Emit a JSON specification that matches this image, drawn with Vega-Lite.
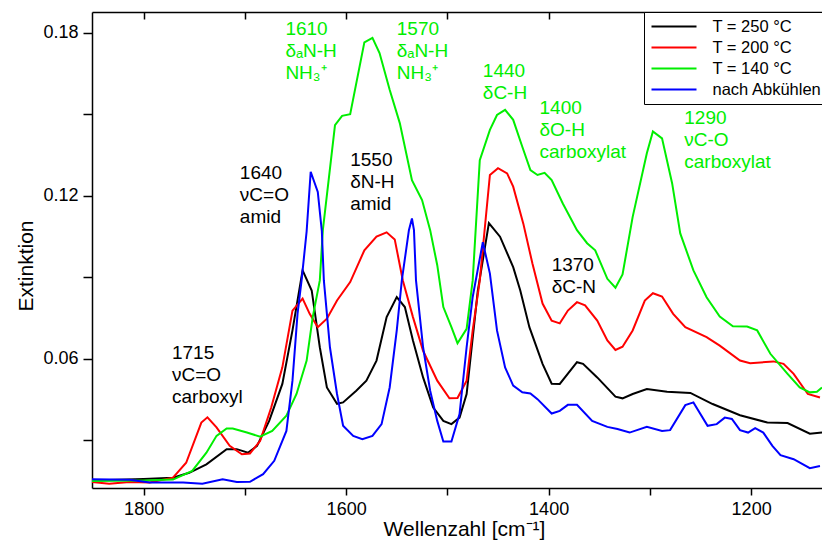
{
  "$schema": "https://vega.github.io/schema/vega-lite/v6.json",
  "width": 730,
  "height": 476,
  "autosize": {"type": "none"},
  "padding": {"left": 92, "top": 12, "right": 0, "bottom": 57},
  "background": "white",
  "config": {
    "view": {"stroke": null},
    "font": "Liberation Sans",
    "axis": {
      "labelFont": "Liberation Sans", "titleFont": "Liberation Sans",
      "labelColor": "black", "titleColor": "black", "domainColor": "black", "tickColor": "black",
      "grid": false, "labelFontSize": 18, "titleFontSize": 21, "titleFontWeight": "normal",
      "domainWidth": 1.5, "tickWidth": 1.5
    }
  },
  "datasets": {
    "spectra": [
      {"s":"T = 250 °C","w":1851,"v":0.0153},{"s":"T = 250 °C","w":1800,"v":0.0158},{"s":"T = 250 °C","w":1771,"v":0.0163},{"s":"T = 250 °C","w":1755,"v":0.0181},{"s":"T = 250 °C","w":1738,"v":0.0212},{"s":"T = 250 °C","w":1718,"v":0.0268},{"s":"T = 250 °C","w":1708,"v":0.0268},{"s":"T = 250 °C","w":1697,"v":0.0255},{"s":"T = 250 °C","w":1688,"v":0.028},{"s":"T = 250 °C","w":1676,"v":0.0372},{"s":"T = 250 °C","w":1663,"v":0.0508},{"s":"T = 250 °C","w":1653,"v":0.0705},{"s":"T = 250 °C","w":1643,"v":0.0926},{"s":"T = 250 °C","w":1634,"v":0.0852},{"s":"T = 250 °C","w":1626,"v":0.0643},{"s":"T = 250 °C","w":1619,"v":0.0495},{"s":"T = 250 °C","w":1609,"v":0.0435},{"s":"T = 250 °C","w":1603,"v":0.044},{"s":"T = 250 °C","w":1590,"v":0.0483},{"s":"T = 250 °C","w":1580,"v":0.052},{"s":"T = 250 °C","w":1570,"v":0.0594},{"s":"T = 250 °C","w":1560,"v":0.0754},{"s":"T = 250 °C","w":1550,"v":0.0828},{"s":"T = 250 °C","w":1542,"v":0.0791},{"s":"T = 250 °C","w":1534,"v":0.0668},{"s":"T = 250 °C","w":1524,"v":0.0532},{"s":"T = 250 °C","w":1514,"v":0.0421},{"s":"T = 250 °C","w":1504,"v":0.0372},{"s":"T = 250 °C","w":1496,"v":0.036},{"s":"T = 250 °C","w":1488,"v":0.0384},{"s":"T = 250 °C","w":1481,"v":0.0471},{"s":"T = 250 °C","w":1470,"v":0.085},{"s":"T = 250 °C","w":1459,"v":0.110},{"s":"T = 250 °C","w":1448,"v":0.105},{"s":"T = 250 °C","w":1435,"v":0.0938},{"s":"T = 250 °C","w":1428,"v":0.0852},{"s":"T = 250 °C","w":1419,"v":0.0717},{"s":"T = 250 °C","w":1406,"v":0.0582},{"s":"T = 250 °C","w":1397,"v":0.0509},{"s":"T = 250 °C","w":1389,"v":0.0508},{"s":"T = 250 °C","w":1372,"v":0.0588},{"s":"T = 250 °C","w":1366,"v":0.0582},{"s":"T = 250 °C","w":1352,"v":0.0532},{"s":"T = 250 °C","w":1334,"v":0.0461},{"s":"T = 250 °C","w":1327,"v":0.0455},{"s":"T = 250 °C","w":1317,"v":0.0471},{"s":"T = 250 °C","w":1303,"v":0.0489},{"s":"T = 250 °C","w":1283,"v":0.0479},{"s":"T = 250 °C","w":1260,"v":0.0475},{"s":"T = 250 °C","w":1238,"v":0.0434},{"s":"T = 250 °C","w":1211,"v":0.0393},{"s":"T = 250 °C","w":1184,"v":0.0366},{"s":"T = 250 °C","w":1164,"v":0.0364},{"s":"T = 250 °C","w":1142,"v":0.0325},{"s":"T = 250 °C","w":1130,"v":0.0329},

      {"s":"T = 200 °C","w":1851,"v":0.0147},{"s":"T = 200 °C","w":1834,"v":0.0141},{"s":"T = 200 °C","w":1814,"v":0.0147},{"s":"T = 200 °C","w":1794,"v":0.0145},{"s":"T = 200 °C","w":1771,"v":0.0163},{"s":"T = 200 °C","w":1758,"v":0.0218},{"s":"T = 200 °C","w":1743,"v":0.0366},{"s":"T = 200 °C","w":1737,"v":0.0385},{"s":"T = 200 °C","w":1728,"v":0.0348},{"s":"T = 200 °C","w":1715,"v":0.028},{"s":"T = 200 °C","w":1703,"v":0.0249},{"s":"T = 200 °C","w":1695,"v":0.0252},{"s":"T = 200 °C","w":1685,"v":0.0298},{"s":"T = 200 °C","w":1674,"v":0.0421},{"s":"T = 200 °C","w":1663,"v":0.0569},{"s":"T = 200 °C","w":1653,"v":0.0778},{"s":"T = 200 °C","w":1643,"v":0.0822},{"s":"T = 200 °C","w":1636,"v":0.0766},{"s":"T = 200 °C","w":1628,"v":0.0717},{"s":"T = 200 °C","w":1619,"v":0.0748},{"s":"T = 200 °C","w":1609,"v":0.0815},{"s":"T = 200 °C","w":1596,"v":0.0883},{"s":"T = 200 °C","w":1582,"v":0.100},{"s":"T = 200 °C","w":1570,"v":0.105},{"s":"T = 200 °C","w":1560,"v":0.1066},{"s":"T = 200 °C","w":1552,"v":0.104},{"s":"T = 200 °C","w":1544,"v":0.0889},{"s":"T = 200 °C","w":1534,"v":0.0754},{"s":"T = 200 °C","w":1524,"v":0.063},{"s":"T = 200 °C","w":1510,"v":0.052},{"s":"T = 200 °C","w":1498,"v":0.0455},{"s":"T = 200 °C","w":1490,"v":0.0456},{"s":"T = 200 °C","w":1481,"v":0.052},{"s":"T = 200 °C","w":1475,"v":0.0705},{"s":"T = 200 °C","w":1468,"v":0.0889},{"s":"T = 200 °C","w":1458,"v":0.1277},{"s":"T = 200 °C","w":1450,"v":0.1302},{"s":"T = 200 °C","w":1441,"v":0.1283},{"s":"T = 200 °C","w":1435,"v":0.1234},{"s":"T = 200 °C","w":1425,"v":0.1098},{"s":"T = 200 °C","w":1416,"v":0.0951},{"s":"T = 200 °C","w":1406,"v":0.0804},{"s":"T = 200 °C","w":1397,"v":0.0741},{"s":"T = 200 °C","w":1389,"v":0.0731},{"s":"T = 200 °C","w":1381,"v":0.0778},{"s":"T = 200 °C","w":1372,"v":0.0809},{"s":"T = 200 °C","w":1364,"v":0.0797},{"s":"T = 200 °C","w":1352,"v":0.0741},{"s":"T = 200 °C","w":1342,"v":0.0668},{"s":"T = 200 °C","w":1334,"v":0.0633},{"s":"T = 200 °C","w":1327,"v":0.0645},{"s":"T = 200 °C","w":1317,"v":0.0705},{"s":"T = 200 °C","w":1305,"v":0.0815},{"s":"T = 200 °C","w":1297,"v":0.0842},{"s":"T = 200 °C","w":1288,"v":0.083},{"s":"T = 200 °C","w":1277,"v":0.0766},{"s":"T = 200 °C","w":1265,"v":0.0717},{"s":"T = 200 °C","w":1244,"v":0.068},{"s":"T = 200 °C","w":1231,"v":0.0649},{"s":"T = 200 °C","w":1211,"v":0.0594},{"s":"T = 200 °C","w":1201,"v":0.0584},{"s":"T = 200 °C","w":1178,"v":0.0591},{"s":"T = 200 °C","w":1168,"v":0.0582},{"s":"T = 200 °C","w":1158,"v":0.0545},{"s":"T = 200 °C","w":1144,"v":0.0471},{"s":"T = 200 °C","w":1132,"v":0.0458},

      {"s":"T = 140 °C","w":1851,"v":0.0151},{"s":"T = 140 °C","w":1800,"v":0.0153},{"s":"T = 140 °C","w":1771,"v":0.0156},{"s":"T = 140 °C","w":1752,"v":0.0188},{"s":"T = 140 °C","w":1738,"v":0.0255},{"s":"T = 140 °C","w":1728,"v":0.0317},{"s":"T = 140 °C","w":1718,"v":0.0344},{"s":"T = 140 °C","w":1712,"v":0.0344},{"s":"T = 140 °C","w":1698,"v":0.0329},{"s":"T = 140 °C","w":1685,"v":0.0314},{"s":"T = 140 °C","w":1673,"v":0.0335},{"s":"T = 140 °C","w":1659,"v":0.0391},{"s":"T = 140 °C","w":1649,"v":0.0471},{"s":"T = 140 °C","w":1639,"v":0.0594},{"s":"T = 140 °C","w":1633,"v":0.0754},{"s":"T = 140 °C","w":1626,"v":0.0889},{"s":"T = 140 °C","w":1623,"v":0.1074},{"s":"T = 140 °C","w":1611,"v":0.1461},{"s":"T = 140 °C","w":1604,"v":0.1495},{"s":"T = 140 °C","w":1596,"v":0.1501},{"s":"T = 140 °C","w":1582,"v":0.1765},{"s":"T = 140 °C","w":1574,"v":0.1782},{"s":"T = 140 °C","w":1567,"v":0.1726},{"s":"T = 140 °C","w":1557,"v":0.1591},{"s":"T = 140 °C","w":1547,"v":0.1468},{"s":"T = 140 °C","w":1535,"v":0.1258},{"s":"T = 140 °C","w":1525,"v":0.1185},{"s":"T = 140 °C","w":1517,"v":0.1074},{"s":"T = 140 °C","w":1510,"v":0.0945},{"s":"T = 140 °C","w":1504,"v":0.0791},{"s":"T = 140 °C","w":1496,"v":0.0717},{"s":"T = 140 °C","w":1490,"v":0.0658},{"s":"T = 140 °C","w":1481,"v":0.0711},{"s":"T = 140 °C","w":1475,"v":0.0889},{"s":"T = 140 °C","w":1468,"v":0.1332},{"s":"T = 140 °C","w":1458,"v":0.1443},{"s":"T = 140 °C","w":1451,"v":0.1498},{"s":"T = 140 °C","w":1443,"v":0.1517},{"s":"T = 140 °C","w":1435,"v":0.148},{"s":"T = 140 °C","w":1426,"v":0.1381},{"s":"T = 140 °C","w":1418,"v":0.1295},{"s":"T = 140 °C","w":1411,"v":0.1277},{"s":"T = 140 °C","w":1404,"v":0.1285},{"s":"T = 140 °C","w":1397,"v":0.1258},{"s":"T = 140 °C","w":1386,"v":0.1172},{"s":"T = 140 °C","w":1372,"v":0.1074},{"s":"T = 140 °C","w":1362,"v":0.1026},{"s":"T = 140 °C","w":1354,"v":0.1},{"s":"T = 140 °C","w":1342,"v":0.0895},{"s":"T = 140 °C","w":1334,"v":0.0862},{"s":"T = 140 °C","w":1327,"v":0.0911},{"s":"T = 140 °C","w":1317,"v":0.1123},{"s":"T = 140 °C","w":1303,"v":0.1357},{"s":"T = 140 °C","w":1297,"v":0.1437},{"s":"T = 140 °C","w":1288,"v":0.1412},{"s":"T = 140 °C","w":1278,"v":0.1246},{"s":"T = 140 °C","w":1270,"v":0.1062},{"s":"T = 140 °C","w":1257,"v":0.0926},{"s":"T = 140 °C","w":1244,"v":0.0827},{"s":"T = 140 °C","w":1231,"v":0.0756},{"s":"T = 140 °C","w":1218,"v":0.072},{"s":"T = 140 °C","w":1204,"v":0.0719},{"s":"T = 140 °C","w":1194,"v":0.0705},{"s":"T = 140 °C","w":1181,"v":0.0619},{"s":"T = 140 °C","w":1164,"v":0.0545},{"s":"T = 140 °C","w":1152,"v":0.0495},{"s":"T = 140 °C","w":1142,"v":0.0477},{"s":"T = 140 °C","w":1135,"v":0.0479},{"s":"T = 140 °C","w":1130,"v":0.0495},

      {"s":"nach Abkühlen","w":1851,"v":0.0157},{"s":"nach Abkühlen","w":1814,"v":0.0155},{"s":"nach Abkühlen","w":1794,"v":0.0145},{"s":"nach Abkühlen","w":1761,"v":0.0145},{"s":"nach Abkühlen","w":1742,"v":0.0141},{"s":"nach Abkühlen","w":1722,"v":0.0157},{"s":"nach Abkühlen","w":1708,"v":0.0147},{"s":"nach Abkühlen","w":1695,"v":0.0148},{"s":"nach Abkühlen","w":1682,"v":0.0176},{"s":"nach Abkühlen","w":1671,"v":0.0225},{"s":"nach Abkühlen","w":1659,"v":0.0335},{"s":"nach Abkühlen","w":1653,"v":0.052},{"s":"nach Abkühlen","w":1648,"v":0.0766},{"s":"nach Abkühlen","w":1644,"v":0.0889},{"s":"nach Abkühlen","w":1639,"v":0.107},{"s":"nach Abkühlen","w":1635,"v":0.1289},{"s":"nach Abkühlen","w":1628,"v":0.1215},{"s":"nach Abkühlen","w":1624,"v":0.107},{"s":"nach Abkühlen","w":1622,"v":0.0889},{"s":"nach Abkühlen","w":1616,"v":0.0643},{"s":"nach Abkühlen","w":1609,"v":0.0471},{"s":"nach Abkühlen","w":1603,"v":0.0354},{"s":"nach Abkühlen","w":1593,"v":0.0317},{"s":"nach Abkühlen","w":1584,"v":0.0305},{"s":"nach Abkühlen","w":1574,"v":0.0317},{"s":"nach Abkühlen","w":1565,"v":0.036},{"s":"nach Abkühlen","w":1557,"v":0.0495},{"s":"nach Abkühlen","w":1550,"v":0.0705},{"s":"nach Abkühlen","w":1545,"v":0.0889},{"s":"nach Abkühlen","w":1538,"v":0.1074},{"s":"nach Abkühlen","w":1535,"v":0.1117},{"s":"nach Abkühlen","w":1533,"v":0.1074},{"s":"nach Abkühlen","w":1531,"v":0.0889},{"s":"nach Abkühlen","w":1524,"v":0.0643},{"s":"nach Abkühlen","w":1517,"v":0.0483},{"s":"nach Abkühlen","w":1510,"v":0.0372},{"s":"nach Abkühlen","w":1504,"v":0.0296},{"s":"nach Abkühlen","w":1496,"v":0.0296},{"s":"nach Abkühlen","w":1488,"v":0.0397},{"s":"nach Abkühlen","w":1481,"v":0.0643},{"s":"nach Abkühlen","w":1475,"v":0.0828},{"s":"nach Abkühlen","w":1465,"v":0.103},{"s":"nach Abkühlen","w":1458,"v":0.0914},{"s":"nach Abkühlen","w":1451,"v":0.0705},{"s":"nach Abkühlen","w":1443,"v":0.0569},{"s":"nach Abkühlen","w":1435,"v":0.0502},{"s":"nach Abkühlen","w":1426,"v":0.0477},{"s":"nach Abkühlen","w":1418,"v":0.0473},{"s":"nach Abkühlen","w":1411,"v":0.0452},{"s":"nach Abkühlen","w":1397,"v":0.0399},{"s":"nach Abkühlen","w":1389,"v":0.0409},{"s":"nach Abkühlen","w":1381,"v":0.0431},{"s":"nach Abkühlen","w":1372,"v":0.0431},{"s":"nach Abkühlen","w":1357,"v":0.0372},{"s":"nach Abkühlen","w":1342,"v":0.035},{"s":"nach Abkühlen","w":1332,"v":0.0342},{"s":"nach Abkühlen","w":1320,"v":0.0329},{"s":"nach Abkühlen","w":1303,"v":0.035},{"s":"nach Abkühlen","w":1288,"v":0.0335},{"s":"nach Abkühlen","w":1280,"v":0.0338},{"s":"nach Abkühlen","w":1265,"v":0.043},{"s":"nach Abkühlen","w":1257,"v":0.044},{"s":"nach Abkühlen","w":1243,"v":0.0354},{"s":"nach Abkühlen","w":1234,"v":0.036},{"s":"nach Abkühlen","w":1226,"v":0.0384},{"s":"nach Abkühlen","w":1219,"v":0.0379},{"s":"nach Abkühlen","w":1211,"v":0.0338},{"s":"nach Abkühlen","w":1203,"v":0.0329},{"s":"nach Abkühlen","w":1196,"v":0.0345},{"s":"nach Abkühlen","w":1188,"v":0.0329},{"s":"nach Abkühlen","w":1179,"v":0.028},{"s":"nach Abkühlen","w":1171,"v":0.0246},{"s":"nach Abkühlen","w":1158,"v":0.0231},{"s":"nach Abkühlen","w":1142,"v":0.0198},{"s":"nach Abkühlen","w":1132,"v":0.0206}
    ],
    "labels": [
      {"s":"T = 250 °C","w":1772,"v":0.0601,"t":["1715","νC=O","carboxyl"]},
      {"s":"T = 250 °C","w":1705,"v":0.1263,"t":["1640","νC=O","amid"]},
      {"s":"T = 250 °C","w":1596,"v":0.131,"t":["1550","δN-H","amid"]},
      {"s":"T = 140 °C","w":1660,"v":0.1792,"t":["1610","δₐN-H","NH₃⁺"]},
      {"s":"T = 140 °C","w":1550,"v":0.1792,"t":["1570","δₐN-H","NH₃⁺"]},
      {"s":"T = 140 °C","w":1465,"v":0.1638,"t":["1440","δC-H"]},
      {"s":"T = 140 °C","w":1409,"v":0.1502,"t":["1400","δO-H","carboxylat"]},
      {"s":"T = 140 °C","w":1266,"v":0.1465,"t":["1290","νC-O","carboxylat"]},
      {"s":"T = 250 °C","w":1397,"v":0.0924,"t":["1370","δC-N"]}
    ]
  },
  "layer": [
    {
      "data": {"name": "spectra"},
      "mark": {"type": "line", "strokeWidth": 2, "clip": true},
      "encoding": {
        "x": {
          "field": "w", "type": "quantitative",
          "scale": {"domain": [1130, 1851], "reverse": true, "nice": false, "zero": false},
          "axis": {
            "orient": "bottom", "values": [1800, 1700, 1600, 1500, 1400, 1300, 1200],
            "format": "d", "labelExpr": "datum.value % 200 == 0 ? datum.label : ''",
            "tickSize": 7, "labelPadding": 5,
            "title": "Wellenzahl [cm⁻¹]", "titleX": 372, "titleY": 47, "titleBaseline": "alphabetic"
          }
        },
        "y": {
          "field": "v", "type": "quantitative",
          "scale": {"domain": [0.0125, 0.1877], "nice": false, "zero": false},
          "axis": {
            "values": [0.03, 0.06, 0.09, 0.12, 0.15, 0.18], "format": ".2f",
            "labelExpr": "round(datum.value * 100) % 6 == 0 ? datum.label : ''",
            "tickSize": 9, "labelPadding": 5,
            "title": "Extinktion", "titleX": -60, "titleY": 253.5, "titleAngle": 270,
            "titleBaseline": "alphabetic", "titleAlign": "center"
          }
        },
        "color": {
          "field": "s", "type": "nominal",
          "scale": {"domain": ["T = 250 °C", "T = 200 °C", "T = 140 °C", "nach Abkühlen"], "range": ["#000000", "#ff0000", "#00ee00", "#0000ff"]},
          "legend": {
            "orient": "none", "legendX": 552, "legendY": 0, "title": null,
            "padding": 6, "rowPadding": 4, "strokeColor": "black", "fillColor": "white",
            "symbolType": "M-3,0H3", "symbolSize": 225, "symbolStrokeWidth": 2,
            "symbolOffset": 15.5, "labelOffset": 30, "labelFontSize": 16.5,
            "labelFont": "Liberation Sans", "labelColor": "black", "labelLimit": 300
          }
        }
      }
    },
    {
      "data": {"name": "labels"},
      "mark": {"type": "text", "align": "left", "baseline": "alphabetic", "fontSize": 19, "lineHeight": 22, "font": "Liberation Sans"},
      "encoding": {
        "x": {
          "field": "w", "type": "quantitative",
          "axis": {"orient": "top", "values": [1800, 1700, 1600, 1500, 1400, 1300, 1200], "labels": false, "tickSize": -7, "title": null}
        },
        "y": {"field": "v", "type": "quantitative"},
        "text": {"field": "t"},
        "color": {"field": "s", "type": "nominal"}
      }
    }
  ]
}
